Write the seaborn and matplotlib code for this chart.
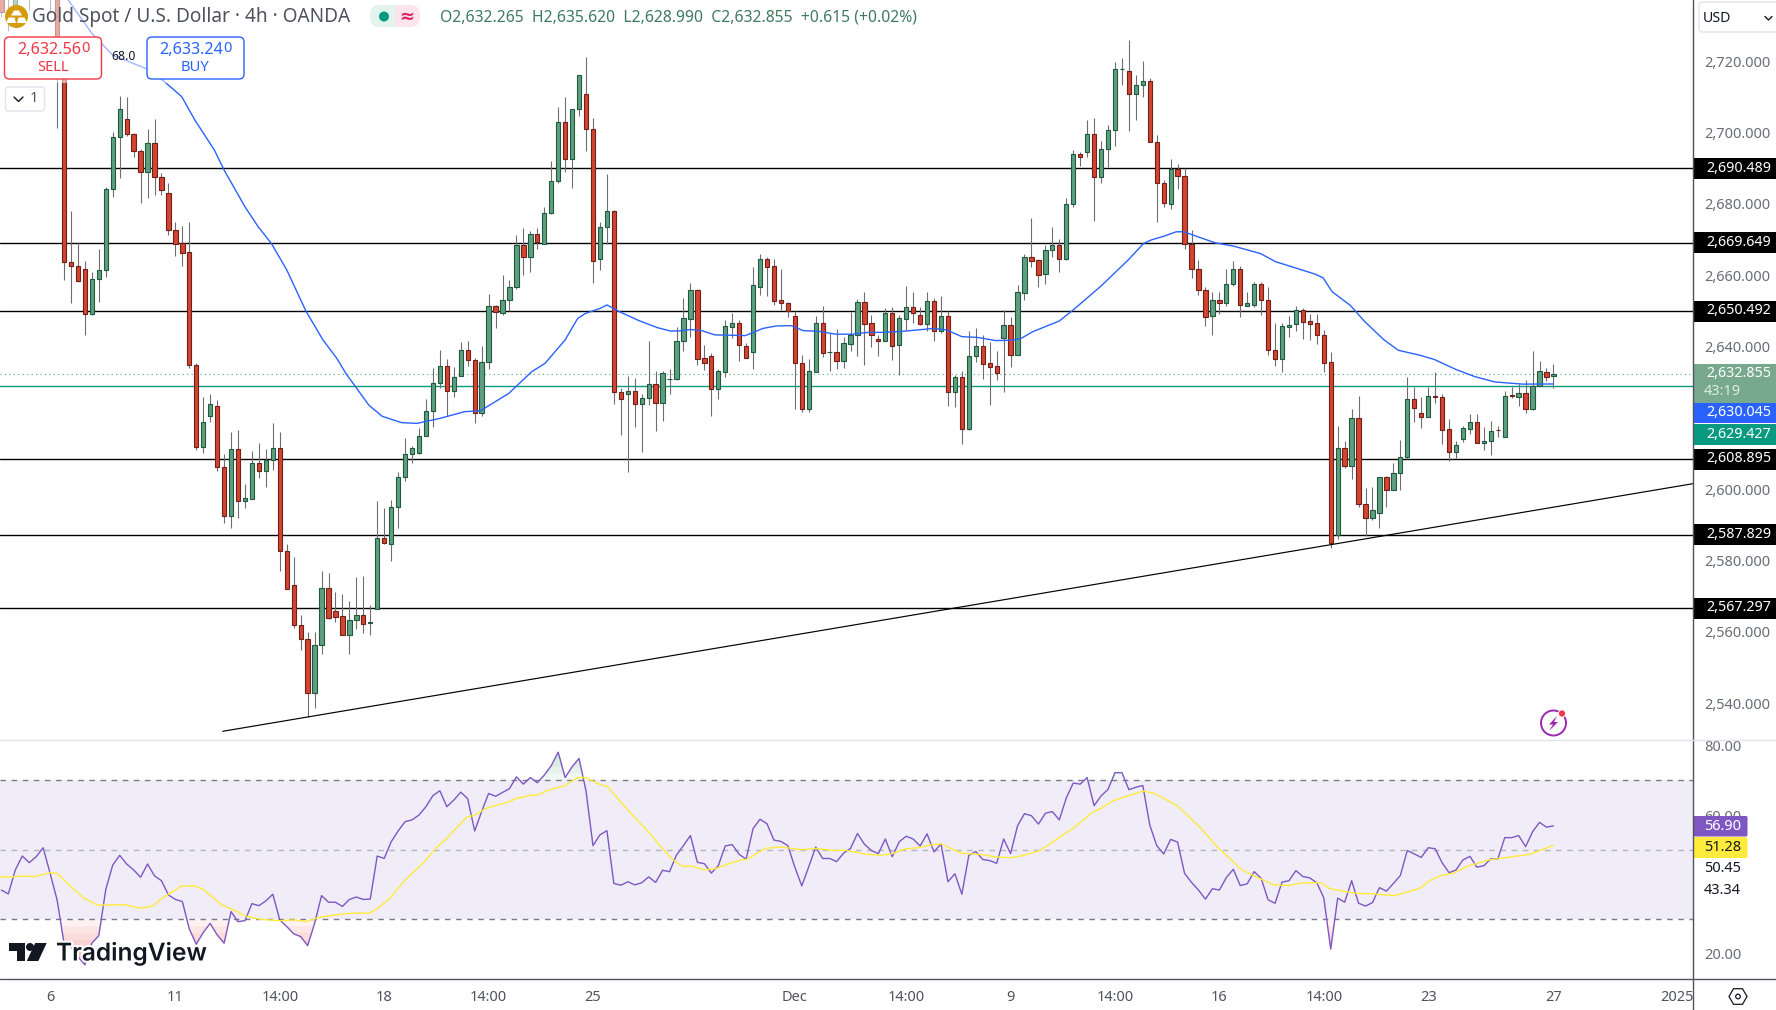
import matplotlib
matplotlib.use("Agg")
import matplotlib.pyplot as plt
import matplotlib.patheffects as pe
from matplotlib.patches import Circle, FancyBboxPatch, Polygon, Rectangle
from matplotlib.transforms import ScaledTranslation
import numpy as np
import pandas as pd
import seaborn as sns

# 4h candles, bar index 0-223
opens = [2745, 2742, 2736.3, 2745, 2742, 2745, 2745, 2744, 2745, 2727,
         2664.1, 2663.2, 2662.2, 2649.6, 2659.4, 2661.9, 2684.6, 2699.4, 2704.2, 2700,
         2695.2, 2689.4, 2697.7, 2688, 2683.7, 2673.1, 2669.6, 2666.9, 2635.5, 2612.4,
         2621, 2624, 2606.9, 2593.1, 2611.7, 2597.3, 2597.8, 2608, 2605.7, 2608.6,
         2612.2, 2583.3, 2573.8, 2562.6, 2558.7, 2543.5, 2557, 2573, 2566.3, 2564.9,
         2559.7, 2564, 2565.4, 2563.1, 2567.1, 2587, 2585.2, 2595.7, 2604, 2610.4,
         2610.8, 2615.6, 2622.6, 2630.2, 2635.2, 2628, 2632.4, 2639.7, 2636.9, 2621.8,
         2636.1, 2651.9, 2649.8, 2653.5, 2657.1, 2668.9, 2665.5, 2672, 2669.3, 2677.9,
         2686.8, 2703.4, 2693, 2707, 2711.2, 2701.4, 2665, 2674, 2678.4, 2627.9,
         2627.3, 2628.2, 2624.3, 2626, 2629.9, 2624.8, 2631.3, 2631.3, 2642.2, 2648.3,
         2656.3, 2637.2, 2638, 2628.7, 2633.5, 2646.1, 2647, 2640.8, 2639.1, 2657.3,
         2665.2, 2663, 2653.5, 2652.6, 2649, 2635.8, 2623.1, 2633.5, 2647, 2638.9,
         2638.9, 2636.5, 2641.3, 2643.8, 2652.9, 2647, 2642.6, 2642.2, 2649.8, 2641,
         2648.3, 2651.5, 2649.3, 2646.9, 2653.2, 2644.8, 2649, 2627.9, 2631.9, 2617.5,
         2638, 2640.8, 2635.8, 2635, 2643, 2646.7, 2638.2, 2655.6, 2665.5, 2664.7,
         2660.9, 2667.5, 2668.9, 2665.2, 2680.4, 2694.4, 2695.1, 2700, 2688, 2695.8,
         2701.1, 2718.2, 2717.9, 2711.2, 2713.7, 2714.9, 2697.8, 2686.5, 2680.5, 2690.3,
         2688.4, 2669.2, 2662.4, 2656.4, 2649, 2653.5, 2652.8, 2658.2, 2662.2, 2652,
         2652.3, 2658.2, 2653.7, 2639.7, 2637.1, 2646.1, 2646.9, 2650.9, 2647.6, 2647,
         2643.9, 2636.1, 2587.6, 2612, 2607.1, 2620.4, 2596.3, 2592.5, 2593.9, 2603.9,
         2600.4, 2605, 2609.6, 2625.7, 2622, 2620.9, 2626.8, 2626.3, 2617.3, 2611.1,
         2614.7, 2617.5, 2619.3, 2613.6, 2614.1, 2617.2, 2615.2, 2626.9, 2626.5, 2627.4,
         2623.1, 2629.4, 2633.3, 2632.265]
closes = [2734.4, 2741, 2745, 2746, 2741, 2744, 2744, 2743, 2727, 2664.2,
          2663.2, 2659, 2649.6, 2659.4, 2661.9, 2684.6, 2699.4, 2707, 2700, 2695.2,
          2689.4, 2697.7, 2688, 2684.5, 2673.1, 2669.4, 2666.8, 2635.5, 2612.4, 2619.5,
          2624.3, 2606.8, 2593.1, 2611.7, 2597.3, 2598.2, 2608, 2605.7, 2608.6, 2612.2,
          2583.3, 2572.6, 2562.6, 2558.7, 2543.5, 2557, 2573, 2564.5, 2564.8, 2559.7,
          2564, 2565.4, 2562.8, 2563.2, 2587, 2585.5, 2595.7, 2604.1, 2610.3, 2612,
          2615.6, 2622.6, 2630.2, 2635.2, 2628, 2632, 2639.7, 2636.9, 2621.8, 2636.1,
          2651.9, 2650.3, 2653.5, 2657.1, 2668.9, 2665.5, 2672, 2669.7, 2677.9, 2686.8,
          2703.4, 2693, 2707, 2716.5, 2701.4, 2664.6, 2674, 2678.4, 2627.9, 2625.7,
          2628.2, 2624.3, 2626, 2629.9, 2624.8, 2633, 2631.3, 2642, 2648.4, 2656.3,
          2637.1, 2636, 2628.7, 2633.6, 2646.2, 2647, 2641, 2637.4, 2657.7, 2665.2,
          2662.9, 2653.4, 2652.8, 2650.4, 2636, 2623.1, 2633.6, 2647, 2638.8, 2638.9,
          2636.5, 2641.4, 2643.8, 2652.9, 2646.9, 2643.8, 2642.2, 2649.8, 2640.8, 2648.4,
          2651.5, 2650, 2646.9, 2653.2, 2644.8, 2649, 2627.9, 2631.9, 2617.5, 2638,
          2640.8, 2635.7, 2634.9, 2633.2, 2646.7, 2638.2, 2655.7, 2665.5, 2664.6, 2660.5,
          2667.5, 2668.9, 2665.2, 2680.4, 2694.4, 2693.7, 2700, 2688, 2695.8, 2701.1,
          2718.2, 2718.3, 2711.2, 2713.7, 2714.9, 2697.8, 2686.5, 2680.9, 2690.3, 2688.4,
          2669.2, 2662.2, 2656.4, 2648.7, 2653.5, 2652.8, 2658.2, 2662.2, 2652.1, 2652.7,
          2658.2, 2653.7, 2639.5, 2637.1, 2646.2, 2646.7, 2650.9, 2647.5, 2646.9, 2643.8,
          2636, 2585.6, 2612, 2607.1, 2620.4, 2596.3, 2592.5, 2594.6, 2603.9, 2600.4,
          2605, 2609.7, 2625.7, 2623.4, 2620.9, 2626.7, 2626.5, 2617.2, 2611.1, 2612.8,
          2617.6, 2619.5, 2613.6, 2614.2, 2617, 2617.1, 2626.8, 2626.7, 2627.4, 2623.1,
          2629.4, 2633.8, 2632.1, 2632.855]
highs = [2746, 2743, 2746, 2748, 2746, 2747, 2746, 2746, 2746, 2727.5,
         2678.5, 2669.8, 2664.5, 2661.4, 2667.9, 2685.3, 2700.6, 2710.7, 2710.4, 2700.4,
         2695.9, 2701.4, 2704.3, 2689.3, 2686.3, 2675.4, 2674.2, 2675.4, 2635.8, 2626.5,
         2627.2, 2625.5, 2610.4, 2616.5, 2617.1, 2602.1, 2611.2, 2613.4, 2611.8, 2619,
         2616.5, 2585.3, 2581.5, 2565.2, 2560.4, 2560.4, 2577.6, 2577, 2571.8, 2571.1,
         2569.2, 2575.9, 2576.2, 2568, 2597.2, 2595.2, 2597.5, 2605.3, 2615, 2612.6,
         2617.8, 2625.7, 2634.5, 2639.5, 2637, 2634.9, 2641.8, 2642, 2637.3, 2640.7,
         2655.4, 2652.2, 2660.5, 2659.2, 2671.8, 2673.7, 2672.9, 2673.7, 2679.7, 2692.4,
         2707.6, 2710.4, 2707.1, 2716.6, 2721.6, 2704.7, 2675.5, 2688.9, 2678.8, 2628.8,
         2632.3, 2631.7, 2627.1, 2642, 2633.8, 2633.6, 2634.2, 2645.9, 2654.1, 2658.3,
         2656.8, 2641, 2638.7, 2634.2, 2648.1, 2649.9, 2648, 2641.4, 2662.7, 2666.5,
         2665.7, 2665, 2662.4, 2653.1, 2650.5, 2638.1, 2637, 2649.1, 2651.9, 2644.2,
         2645.4, 2643.1, 2650.3, 2653.8, 2655.7, 2649.3, 2643.7, 2651.2, 2651.6, 2649.3,
         2657.5, 2655.8, 2651.5, 2655.8, 2654.1, 2654.7, 2650.5, 2632.5, 2633.8, 2644.9,
         2645.6, 2643.7, 2641.7, 2639.3, 2650.8, 2648.8, 2657.8, 2666.5, 2676.5, 2665.2,
         2669, 2673.9, 2670.8, 2682.1, 2695.6, 2695.1, 2704, 2704.6, 2698.1, 2702.5,
         2720.3, 2721.3, 2726.4, 2716.5, 2720.6, 2715.9, 2699.8, 2687.2, 2693.1, 2691.7,
         2690.7, 2673.2, 2664.8, 2657.1, 2655.7, 2655.7, 2662.3, 2664.5, 2663.1, 2655.7,
         2658.7, 2658.7, 2657.1, 2647, 2647, 2649.1, 2651.9, 2651.2, 2649.6, 2649.6,
         2645.2, 2639, 2618.2, 2614, 2622.9, 2626.6, 2600.8, 2601.1, 2604, 2604.3,
         2607.8, 2614.3, 2632.1, 2629.3, 2626.5, 2629.3, 2633.4, 2627.2, 2620.2, 2614.1,
         2618.2, 2621.5, 2621.5, 2617.9, 2619.6, 2618.2, 2628, 2629.3, 2630, 2631.1,
         2639.3, 2636.5, 2634.4, 2635.62]
lows = [2733, 2729, 2735, 2740, 2734.9, 2740, 2741, 2734, 2701.8, 2659.2,
        2652.6, 2658.6, 2643.7, 2649.4, 2653.1, 2660.1, 2682.5, 2687.8, 2699.6, 2693.7,
        2680.7, 2682.2, 2683, 2683, 2671.9, 2666, 2663.1, 2634.6, 2611.5, 2610.7,
        2619.4, 2605.7, 2591.1, 2589.7, 2592.5, 2595.3, 2597.8, 2603.7, 2601.2, 2605.9,
        2577.7, 2572.6, 2561.7, 2555.5, 2536.7, 2539.2, 2554.3, 2564.2, 2563.3, 2559.7,
        2554.3, 2561.4, 2560.3, 2559.6, 2567.1, 2585.3, 2580.5, 2589.7, 2602.9, 2608,
        2610.4, 2615.4, 2618, 2629, 2621, 2626.4, 2632.3, 2635.1, 2619.2, 2621.1,
        2634.2, 2645.8, 2649.3, 2650.5, 2656.8, 2660.7, 2661.5, 2668, 2669.3, 2677.6,
        2686.3, 2689.5, 2684.9, 2705.2, 2695.2, 2658.4, 2662, 2669.2, 2624.5, 2615.8,
        2605.4, 2618, 2611, 2624.2, 2617, 2619.7, 2627.2, 2631.1, 2639.4, 2643.2,
        2635.4, 2634, 2621, 2625.8, 2632.1, 2642.9, 2636.5, 2637.4, 2634.2, 2655,
        2654.7, 2652.2, 2650.7, 2648.9, 2623, 2622.2, 2622.2, 2633.5, 2637.6, 2633.7,
        2634.2, 2634.6, 2639.3, 2637.9, 2635.4, 2640.3, 2637.9, 2642.2, 2636.7, 2632.5,
        2645.1, 2647, 2646.6, 2645, 2642.1, 2644.4, 2623.8, 2623.6, 2613.3, 2617.2,
        2636.2, 2631.5, 2624.1, 2631.1, 2627.9, 2634.9, 2638.2, 2653.6, 2662.9, 2657.1,
        2658.1, 2665.7, 2661.5, 2664.7, 2679.7, 2691.2, 2693.7, 2675.8, 2686.5, 2690.9,
        2696.8, 2713.7, 2700.9, 2704, 2710.6, 2697.8, 2675.5, 2679.7, 2679.2, 2684.7,
        2667.8, 2659.8, 2655, 2646.4, 2643.7, 2649.6, 2652, 2657.6, 2648.9, 2652,
        2651.6, 2649.4, 2638.1, 2635.2, 2633.5, 2643.3, 2644.9, 2642.6, 2642.3, 2641.2,
        2633.4, 2584.1, 2586.6, 2606.6, 2603.5, 2595.6, 2587.4, 2592, 2589.7, 2595.6,
        2600.4, 2600.3, 2608.9, 2619.4, 2617.6, 2620.9, 2624.8, 2613.2, 2608.5, 2609.2,
        2613.8, 2616, 2613.6, 2611.5, 2610.1, 2615.2, 2615.2, 2626.1, 2623.8, 2622,
        2622.7, 2629.4, 2630.8, 2628.99]

# moving average on price, read at its bends
ma_bars = [8, 9.6, 13, 16, 20.7, 23.4, 25.9, 27.8, 30.6, 32, 35, 36.9, 38.8, 41, 43.8, 46.2, 48.2, 49.5,
           52.8, 54.7, 57.5, 59.7, 63, 66.6, 68.8, 72.9, 76.2, 78.1, 81, 82.8, 83.9, 86, 87, 88.8, 91.6,
           94.3, 96.1, 97.3, 99, 100.6, 102.5, 105, 106.9, 109.4, 111.3, 113.5, 115.2, 117.4, 119.9, 122.3,
           124.5, 126.7, 129.5, 131.7, 133.9, 135.8, 138, 140.2, 142.9, 145.1, 146.5, 148.2, 152, 154, 158,
           161.9, 164.1, 165.2, 167.1, 168.8, 169.9, 172.2, 174.4, 177, 180.9, 183.1, 185.4, 188.8, 189.9,
           191.2, 193.8, 195.9, 198.6, 200.7, 203.8, 205.9, 209, 211.7, 214.6, 218.6, 223]
ma_vals = [2745, 2737.66, 2728.3, 2722.2, 2718.5, 2714.8, 2710.6, 2704, 2695.6, 2690, 2679.7, 2674.1, 2669.4,
           2662, 2650.3, 2642.4, 2637.2, 2633, 2624.1, 2621, 2619.2, 2619, 2620.4, 2622.3, 2622.5, 2627.4,
           2633.5, 2635.8, 2642.4, 2648.4, 2649.8, 2651.2, 2652.2, 2650.3, 2647.8, 2645.8, 2644.9, 2644.9,
           2645.3, 2645, 2643.8, 2643.7, 2643.6, 2645.6, 2646.3, 2646.4, 2645, 2644.8, 2644, 2644, 2644.5,
           2644.5, 2644.8, 2645.2, 2645.6, 2645.2, 2643.3, 2643.1, 2642.2, 2642.3, 2642.8, 2644.7, 2647.7,
           2650.8, 2657.5, 2664.8, 2669.4, 2670.4, 2671.5, 2672.7, 2672.7, 2671.1, 2669.6, 2668.7, 2666.6,
           2664.3, 2662.9, 2660.8, 2659.8, 2655.9, 2652.1, 2647.5, 2642.5, 2639.5, 2638.1, 2636.9, 2634.1,
           2632.1, 2630.6, 2630, 2630.045]

levels = [2690.489, 2669.649, 2650.492, 2608.895, 2587.829, 2567.297]
level_labels = ["2,690.489", "2,669.649", "2,650.492", "2,608.895", "2,587.829", "2,567.297"]
trend_bars = [31.8, 243.05]
trend_vals = [2532.7, 2602.1]
last_close = 2632.855
bid_line = 2629.427
price_ticks = [2720, 2700, 2680, 2660, 2640, 2600, 2580, 2560, 2540]

rsi = [38.4, 37.3, 44.2, 48.2, 46.3, 48.0, 50.6, 43.2, 35.6, 23.1, 22.1, 19.2, 16.9, 23.1, 25.3, 38.6, 45.6, 48.4,
       45.9, 44.2, 42.1, 45.9, 42.5, 41.1, 37.0, 35.7, 35.1, 27.2, 22.8, 26.2, 28.8, 25.5, 23.1, 32.2, 29.3, 29.6,
       34.5, 33.9, 35.3, 37.2, 29.8, 27.9, 25.8, 25.0, 22.4, 28.8, 36.8, 34.9, 34.9, 33.7, 35.7, 36.4, 35.7, 35.8,
       48.2, 47.5, 52.3, 55.4, 58.1, 58.6, 60.0, 62.4, 65.6, 67.0, 62.4, 64.3, 66.6, 64.7, 55.4, 61.0, 66.2, 65.4,
       66.5, 67.6, 71.0, 68.9, 70.8, 69.3, 71.5, 74.2, 78.1, 70.8, 73.9, 76.3, 66.9, 51.2, 54.3,
       55.5, 40.3, 39.8, 40.8, 39.9, 40.5, 42.2, 40.6, 44.1, 43.7, 48.5, 51.2, 54.1, 46.4, 46.0, 43.3, 45.4, 51.1,
       51.5, 48.7, 47.3, 56.1, 58.8, 57.5, 52.8, 52.4, 51.2, 45.0, 39.6, 45.1, 50.8, 47.5, 47.5, 46.6, 49.0, 50.4,
       54.7, 51.6, 49.8, 48.9, 53.1, 48.0, 52.3, 53.9, 53.1, 51.1, 54.6, 49.4, 51.7, 40.8, 43.1, 37.2, 48.4, 49.5,
       47.2, 46.9, 46.1, 53.1, 48.9, 56.9, 60.4, 59.8, 57.4, 60.5, 61.0, 58.6, 64.9, 69.2, 68.9, 70.8, 62.7, 65.5,
       67.4, 72.2, 72.2, 67.3, 68.0, 68.5, 57.1, 51.2, 48.8, 53.0, 52.2, 43.2, 40.6, 38.4,
       35.8, 38.8, 38.4, 42.0, 44.4, 39.7, 40.2, 43.7, 41.8, 35.6, 34.6, 40.7, 41.1, 44.0, 42.3, 41.9, 40.5, 36.2,
       21.4, 36.1, 34.9, 41.1, 34.6, 33.8, 34.8, 39.1, 38.1, 40.3, 42.6, 49.8, 48.8, 47.8, 50.6, 50.3, 46.3, 43.4,
       44.2, 47.1, 48.1, 45.0, 45.4, 47.4, 47.3, 53.5, 53.5, 54.1, 50.9, 55.2, 57.9, 56.5, 56.9]

rsi_ma_bars = [-0.2, 0.9, 2.9, 4.9, 7, 8, 10, 11.9, 13.9, 15.7, 17.9, 19.9, 21.8, 22.9, 25.9, 27.8, 29, 31.7, 33.9,
               35.2, 37.2, 39.9, 42.1, 43.8, 45.8, 48.9, 50.9, 52.8, 53.9, 55.8, 58, 60.8, 62.4, 64, 66.9, 68, 69.6,
               72.9, 74, 75.9, 77, 78.9, 80.9, 82.8, 83.9, 86, 87.1, 88.3, 91, 93.2, 94.3, 96.5, 97.9, 99.3, 100.9,
               102.5, 105, 106.4, 107.2, 109.7, 111.9, 115.2, 116.8, 119.6, 121.2, 124, 126.2, 127.8, 130, 131.7,
               133.3, 135, 138, 141, 142.7, 145.1, 147.1, 149.3, 154.2, 156.7, 158, 159.7, 161.9, 164.1, 165.7, 169,
               172.2, 174.9, 177, 178.1, 180.2, 182.8, 184.9, 187, 189.6, 190.9, 194.4, 197, 200.2, 203.8, 205.2,
               207, 208.6, 210.7, 213.8, 218.1, 219.6, 223]
rsi_ma = [42.3, 42.1, 42.4, 42.3, 43.4, 43.2, 39.4, 36.0, 34.0, 34.2, 34.1, 33.2, 33.8, 35.8, 39.6, 39.6, 38.6, 34.1,
          32.2, 30.8, 30.0, 29.6, 29.8, 29.3, 30.6, 31.5, 31.8, 31.7, 32.9, 36.0, 41.3, 46.6, 50.4, 53.3, 59.5, 59.9,
          61.9, 63.8, 64.8, 65.6, 65.8, 67.4, 68.4, 70.8, 70.8, 68.8, 68.2, 65.3, 59.3, 54.7, 51.9, 47.1, 45.2, 45.3,
          44.2, 44.5, 46.3, 47.1, 47.3, 50.4, 50.8, 50.0, 50.4, 49.8, 49.9, 48.8, 48.4, 48.8, 50.3, 50.6, 51.3, 51.7,
          49.0, 48.6, 48.0, 47.7, 48.5, 49.9, 56.5, 60.7, 61.9, 64.1, 65.6, 66.9, 66.2, 62.6, 56.5, 50.4, 46.6, 44.4,
          42.3, 39.9, 39.7, 40.5, 40.5, 38.8, 37.5, 37.3, 36.8, 38.9, 41.1, 42.7, 43.2, 45.3, 47.1, 48.3, 48.7, 51.28]
rsi_ticks = [80, 60, 20]

time_ticks = [7, 25, 40, 55, 70, 85, 114, 130, 145, 160, 175, 190, 205, 223, 240.7]
time_labels = ["6", "11", "14:00", "18", "14:00", "25", "Dec", "14:00", "9", "14:00", "16", "14:00", "23", "27", "2025"]

UP_FILL, UP_EDGE = "#5f9f80", "#1d5a3e"
DOWN_FILL, DOWN_EDGE = "#d4452f", "#70201a"
WICK = "#6e6e6e"
AXIS_TEXT = "#6a6d78"
GREY_LINE = "#50535e"
RSI_COLOR, RSI_MA_COLOR = "#7e57c2", "#ffeb3b"

sns.set_theme(style="white")
plt.rcParams["font.family"] = ["Noto Sans", "DejaVu Sans"]

W, H = 1776, 1010
RIGHT, PANE, BOTTOM = 1693, 739.5, 979
fig = plt.figure(figsize=(W / 100, H / 100), dpi=100, facecolor="white")
ax = fig.add_axes([0, (H - PANE) / H, RIGHT / W, PANE / H])
ax_rsi = fig.add_axes([0, (H - BOTTOM) / H, RIGHT / W, (BOTTOM - PANE) / H], sharex=ax)

df = pd.DataFrame({"bar": range(len(opens)), "open": opens, "high": highs, "low": lows, "close": closes})
df["up"] = df["close"] >= df["open"]

# price pane
for lvl in levels:
    ax.axhline(lvl, color="black", lw=1.0, zorder=1)
ax.axhline(bid_line, color="#089981", lw=1.0, zorder=1)
ax.axhline(last_close, color="#4fa578", lw=0.8, ls=(0, (1, 3)), zorder=1)
ax.vlines(df["bar"], df["low"], df["high"], color=WICK, lw=0.8, zorder=2)
ax.bar(df["bar"], (df["close"] - df["open"]).abs(), bottom=df[["open", "close"]].min(axis=1), width=0.62,
       color=np.where(df["up"], UP_FILL, DOWN_FILL), edgecolor=np.where(df["up"], UP_EDGE, DOWN_EDGE),
       linewidth=0.8, zorder=3)
sns.lineplot(x=ma_bars, y=ma_vals, ax=ax, color="#2962ff", lw=1.0, zorder=4)
sns.lineplot(x=trend_bars, y=trend_vals, ax=ax, color="black", lw=0.85, zorder=4)
ax.set_xlim(-0.2, 243.05)
ax.set_ylim(2530.4, 2737.66)
ax.yaxis.tick_right()
ax.set_yticks(price_ticks)
ax.set_yticklabels([f"{t:,.3f}" for t in price_ticks], color=AXIS_TEXT, fontsize=10.5, ha="left")
ax.tick_params(axis="y", length=0, pad=8)
ax.tick_params(axis="x", length=0, labelbottom=False)
lift = ScaledTranslation(0, 2 / 100, fig.dpi_scale_trans)
for lab in ax.get_yticklabels():
    lab.set_transform(lab.get_transform() + lift)
for s in ax.spines.values():
    s.set_visible(False)

# RSI pane
bars = df["bar"].to_numpy()
rsi_arr = np.array(rsi)
ax_rsi.axhspan(30, 70, color="#f0edf8", lw=0, zorder=0)
for step in range(6):
    # stacked thin fills give the fade toward the extremes
    low_edge, high_edge = 30 - 2 * step, 70 + 2 * step
    ax_rsi.fill_between(bars, rsi_arr, low_edge, where=rsi_arr < low_edge, interpolate=True,
                        color="#f7a8a8", alpha=0.16, lw=0, zorder=1)
    ax_rsi.fill_between(bars, rsi_arr, high_edge, where=rsi_arr > high_edge, interpolate=True,
                        color="#a8d8b8", alpha=0.16, lw=0, zorder=1)
ax_rsi.axhline(70, color="#787b86", lw=1.0, ls=(0, (4, 4)), zorder=1)
ax_rsi.axhline(50, color="#b2b5be", lw=1.0, ls=(0, (4, 4)), zorder=1)
ax_rsi.axhline(30, color="#787b86", lw=1.0, ls=(0, (4, 4)), zorder=1)
sns.lineplot(x=bars, y=rsi_arr, ax=ax_rsi, color=RSI_COLOR, lw=1.0, zorder=3)
sns.lineplot(x=rsi_ma_bars, y=rsi_ma, ax=ax_rsi, color=RSI_MA_COLOR, lw=1.0, zorder=3)
ax_rsi.set_ylim(12.8, 81.75)
ax_rsi.yaxis.tick_right()
ax_rsi.set_yticks(rsi_ticks)
ax_rsi.set_yticklabels([f"{t:.2f}" for t in rsi_ticks], color=AXIS_TEXT, fontsize=10.5, ha="left")
ax_rsi.tick_params(axis="y", length=0, pad=8)
ax_rsi.set_xticks(time_ticks)
ax_rsi.set_xticklabels(time_labels, color="#50535e", fontsize=10.5)
ax_rsi.tick_params(axis="x", length=0, pad=8)
ax_rsi.get_xticklabels()[-1].set_fontweight("bold")
for s in ax_rsi.spines.values():
    s.set_visible(False)

# terminal chrome drawn over both panes, in pixel coordinates
ui = fig.add_axes([0, 0, 1, 1], zorder=5)
ui.set_xlim(0, W)
ui.set_ylim(H, 0)
ui.axis("off")
ui.patch.set_alpha(0)

ui.add_patch(Rectangle((0, 0), 250, 83, color="white", alpha=0.55, lw=0))
ui.plot([RIGHT, RIGHT], [0, H], color=GREY_LINE, lw=1.0)
ui.plot([0, W], [979, 979], color=GREY_LINE, lw=1.0)
ui.plot([0, W], [739.5, 739.5], color="#e0e3eb", lw=1.0)


def price_label(y0, y1, text, bg, fg="white", weight="bold"):
    ui.add_patch(Rectangle((RIGHT + 0.5, y0), W - RIGHT, y1 - y0, color=bg, lw=0))
    ui.text(1771, (y0 + y1) / 2 - 0.5, text, color=fg, fontsize=10.3, fontweight=weight, ha="right", va="center")


for lab, y in zip(level_labels, [168.5, 242.5, 311, 459.5, 534.5, 608]):
    price_label(y - 10.5, y + 10.5, lab, "black")
ui.add_patch(Rectangle((RIGHT + 0.5, 364), W - RIGHT, 39, color="#78a98c", lw=0))
ui.text(1771, 373.5, "2,632.855", color="white", fontsize=10.3, fontweight="bold", ha="right", va="center")
ui.text(1704, 391.5, "43:19", color="#dcebe3", fontsize=10.5, ha="left", va="center")
price_label(403, 423, "2,630.045", "#2962ff")
price_label(424, 445, "2,629.427", "#089981")


def rsi_label(y0, y1, text, bg, fg):
    ui.add_patch(FancyBboxPatch((RIGHT + 0.5, y0), 54, y1 - y0, boxstyle="round,pad=0,rounding_size=1.5", fc=bg, ec="none"))
    ui.text(1741, (y0 + y1) / 2, text, color=fg, fontsize=10.5, fontweight="medium", ha="right", va="center")


rsi_label(816, 836.5, "56.90", RSI_COLOR, "white")
rsi_label(837, 858, "51.28", RSI_MA_COLOR, "#131722")
rsi_label(858, 880, "50.45", "white", "#131722")
rsi_label(880, 902, "43.34", "white", "#131722")

# legend row
ui.add_patch(Circle((16.5, 16.5), 11.5, color="#d69c0e", lw=0))
for pts in ([(11, 15.5), (14, 10.5), (19, 10.5), (22, 15.5)], [(6, 23), (8.5, 17.5), (14.5, 17.5), (16, 23)],
            [(17, 23), (18.5, 17.5), (24.5, 17.5), (27, 23)]):
    ui.add_patch(Polygon(pts, color="white", lw=0))
ui.text(32, 17, "Gold Spot / U.S. Dollar · 4h · OANDA", color="#50535e", fontsize=13.7, ha="left", va="center")
ui.add_patch(FancyBboxPatch((370, 5), 50, 22, boxstyle="round,pad=0,rounding_size=10", fc="#fce4ec", ec="none"))
ui.add_patch(FancyBboxPatch((370, 5), 25, 22, boxstyle="round,pad=0,rounding_size=10", fc="#e3f4ef", ec="none"))
ui.add_patch(Rectangle((385, 5), 10, 22, color="#e3f4ef", lw=0))
ui.add_patch(Circle((384, 16.5), 5, color="#089981", lw=0))
ui.text(407, 16.5, "≈", color="#e91e63", fontsize=13, fontweight="bold", ha="center", va="center", family="DejaVu Sans")
ui.text(440, 17, "O2,632.265  H2,635.620  L2,628.990  C2,632.855  +0.615 (+0.02%)", color="#3e7a5e", fontsize=11.3,
        ha="left", va="center")
ui.text(124, 56.5, "68.0", color="#131722", fontsize=8.8, ha="center", va="center")

# sell / buy buttons
for x0, main, tail, word, col in [(4.5, "2,632.56", "0", "SELL", "#f23645"), (147, "2,633.24", "0", "BUY", "#2962ff")]:
    ui.add_patch(FancyBboxPatch((x0, 37), 97, 42, boxstyle="round,pad=0,rounding_size=5", fc="white", ec=col, lw=1.0))
    ui.text(x0 + 76.3, 49.5, main, color=col, fontsize=11.6, fontweight="bold", ha="right", va="center")
    ui.text(x0 + 76.5, 48, tail, color=col, fontsize=10.5, ha="left", va="center")
    ui.text(x0 + 48, 67.5, word, color=col, fontsize=10.6, ha="center", va="center")
ui.add_patch(FancyBboxPatch((5.5, 87), 39, 24, boxstyle="round,pad=0,rounding_size=3", fc="white", ec="#e0e3eb", lw=1.0))
ui.plot([14, 18.5, 23], [97, 101.5, 97], color="#131722", lw=1.0)
ui.text(34, 99, "1", color="#50535e", fontsize=10.5, ha="center", va="center")

ui.add_patch(FancyBboxPatch((1699, 2), 85, 30, boxstyle="round,pad=0,rounding_size=4", fc="white", ec="#e0e3eb", lw=1.0))
ui.text(1703, 18, "USD", color="#131722", fontsize=10.2, ha="left", va="center")
ui.plot([1765, 1768.5, 1772], [16.5, 20, 16.5], color="#131722", lw=1.0)

# lightning badge
ui.add_patch(Circle((1553.5, 723), 12.5, fc="none", ec="#9c27b0", lw=1.4))
ui.add_patch(Polygon([(1557, 716), (1549, 724.5), (1553, 724.5), (1549, 731), (1558, 722), (1554, 722)], color="#9c27b0", lw=0))
ui.add_patch(Circle((1562, 713.5), 3.6, color="#f23645", ec="white", lw=0.7))

# settings hexagon in the corner
hex_ang = np.deg2rad(np.arange(0, 360, 60))
ui.add_patch(Polygon(np.column_stack([1738 + 9 * np.cos(hex_ang), 996.5 + 9 * np.sin(hex_ang)]), fc="white", ec="#131722", lw=0.9))
ui.add_patch(Circle((1738, 996.5), 2.3, fc="white", ec="#131722", lw=0.9))

# watermark
ui.add_patch(Polygon([(9, 943), (25, 943), (25, 961), (17, 961), (17, 951), (9, 951)], color="#131722", lw=0))
ui.add_patch(Circle((30, 947), 4, color="#131722", lw=0))
ui.add_patch(Polygon([(35.2, 943), (46.7, 943), (38.3, 961), (26.8, 961)], color="#131722", lw=0))
ui.text(56, 953, "TradingView", color="#131722", fontsize=17.6, fontweight="semibold", ha="left", va="center",
        family="Inter", path_effects=[pe.withStroke(linewidth=3, foreground="white")])

fig.savefig("out.png", dpi=100)
plt.close(fig)
